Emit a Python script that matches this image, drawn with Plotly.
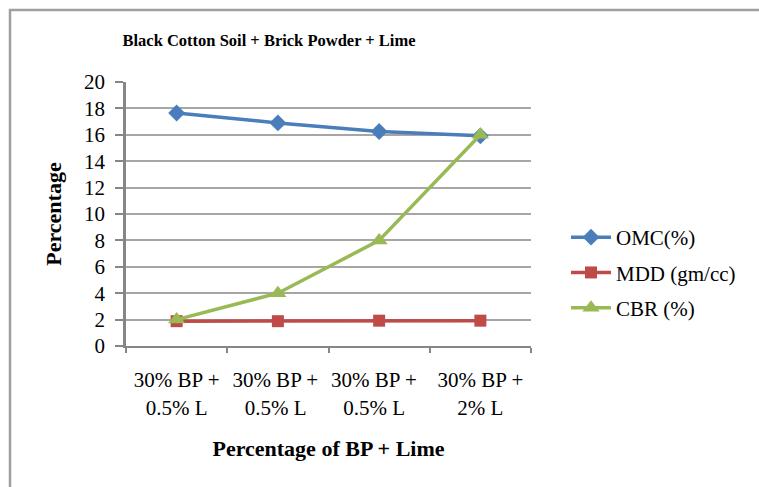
import plotly.graph_objects as go

categories = ["30% BP +<br>0.5% L", "30% BP + <br>0.5% L ", "30% BP +  <br>0.5% L  ", "30% BP +<br>2% L"]
omc = [17.65, 16.9, 16.25, 15.92]
mdd = [1.88, 1.88, 1.92, 1.92]
cbr = [2, 4, 8, 16]
y_ticks = list(range(0, 21, 2))

FONT = "Liberation Serif"
W, H = 759, 487
L, R, T, B = 126, 228, 82, 141

fig = go.Figure()
fig.add_trace(go.Scatter(x=categories, y=omc, name="OMC(%)", mode="lines+markers", legendgroup="a",
                         line=dict(color="#4a7ebb", width=3.5),
                         marker=dict(symbol="diamond", size=13, color="#4a7ebb")))
fig.add_trace(go.Scatter(x=categories, y=mdd, name="MDD (gm/cc)", mode="lines+markers", legendgroup="b",
                         line=dict(color="#be4b48", width=3.5),
                         marker=dict(symbol="square", size=12, color="#be4b48")))
fig.add_trace(go.Scatter(x=categories, y=cbr, name="CBR (%)", mode="lines+markers", legendgroup="c",
                         line=dict(color="#98b954", width=3.5),
                         marker=dict(symbol="triangle-up", size=15, color="#98b954")))

pw, ph = W - L - R, H - T - B
def px(x):
    return (x - L) / pw
def py(y):
    return (H - B - y) / ph

fig.update_layout(
    width=W, height=H,
    margin=dict(l=L, r=R, t=T, b=B, autoexpand=False),
    paper_bgcolor="white", plot_bgcolor="white",
    font=dict(family=FONT, size=22, color="black"),
    title=dict(text="<b>Black Cotton Soil + Brick Powder + Lime</b>", x=269 / W, xanchor="center",
               y=1 - 40 / H, yanchor="middle", font=dict(family=FONT, size=16.5)),
    xaxis=dict(type="category", range=[-0.5, 3.5], tickson="boundaries", ticks="outside", ticklen=5,
               tickcolor="#868686", tickwidth=2, showline=True, linecolor="#868686", linewidth=2,
               showgrid=False, tickfont=dict(family=FONT, size=21), ticklabelstandoff=14, tickangle=0,
               automargin=False,
               title=dict(text="<b>Percentage of BP + Lime</b>", font=dict(family=FONT, size=22), standoff=22)),
    yaxis=dict(range=[0, 20], tickvals=y_ticks, ticks="outside", ticklen=8, tickcolor="#868686",
               tickwidth=2, showline=True, linecolor="#868686", linewidth=2.5,
               showgrid=True, gridcolor="#a6a6a6", gridwidth=2, zeroline=False,
               tickfont=dict(family=FONT, size=21), ticklabelstandoff=6, automargin=False,
               title=dict(text="<b>Percentage</b>", font=dict(family=FONT, size=22), standoff=17)),
    legend=dict(x=px(566), y=py(217), xanchor="left", yanchor="top", font=dict(family=FONT, size=21),
                bgcolor="rgba(0,0,0,0)", tracegroupgap=5, itemwidth=40),
    showlegend=True,
    shapes=[dict(type="rect", xref="paper", yref="paper", x0=px(10), x1=px(800), y0=py(530), y1=py(10),
                 line=dict(color="#a0a0a0", width=2.5), layer="below")],
)

fig.write_html("out.html", config={"displayModeBar": False},
               post_script="document.body.style.margin='0px';document.body.style.overflow='hidden';")
